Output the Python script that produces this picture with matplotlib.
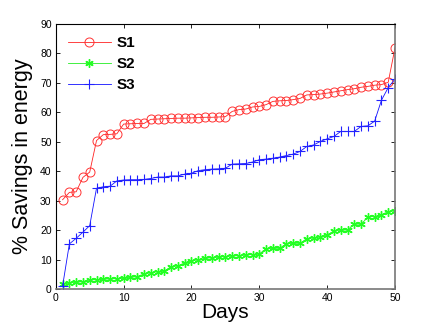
import numpy as np
import matplotlib
matplotlib.use('Agg')
import matplotlib.pyplot as plt

plt.rcParams['font.family'] = ['Liberation Sans', 'DejaVu Sans']

# valores
days = np.arange(1, 51)
s1 = [30.3, 32.8, 33.0, 37.9, 39.7, 50.4, 52.4, 52.5, 52.7, 56.0,
      56.1, 56.2, 56.2, 57.6, 57.7, 57.8, 57.9, 58.0, 58.0, 58.1,
      58.2, 58.3, 58.3, 58.4, 58.5, 60.3, 60.9, 61.1, 61.8, 62.0,
      62.6, 63.7, 63.9, 64.0, 64.3, 64.7, 65.9, 66.0, 66.2, 66.5,
      66.9, 67.3, 67.7, 68.0, 68.5, 68.8, 69.2, 69.4, 70.2, 81.9]
s2 = [1.7, 2.1, 2.2, 2.5, 3.1, 3.1, 3.3, 3.4, 3.5, 3.6,
      3.9, 4.2, 5.1, 5.5, 5.9, 6.1, 7.6, 7.8, 8.9, 9.6,
      9.9, 10.4, 10.6, 10.8, 11.0, 11.2, 11.3, 11.5, 11.7, 11.9,
      13.7, 13.8, 13.8, 15.4, 15.5, 15.5, 17.1, 17.3, 17.8, 18.4,
      19.7, 20.0, 20.0, 22.0, 22.0, 24.4, 24.6, 25.2, 26.3, 26.5]
s3 = [1.0, 15.3, 17.2, 19.3, 21.5, 34.2, 34.7, 34.9, 36.7, 37.0,
      37.1, 37.1, 37.2, 37.5, 38.0, 38.0, 38.4, 38.4, 39.0, 39.3,
      40.2, 40.5, 40.7, 40.8, 41.0, 42.4, 42.5, 42.6, 43.1, 43.9,
      44.1, 44.4, 44.8, 45.3, 45.8, 46.7, 48.4, 48.9, 50.1, 51.0,
      51.8, 53.5, 53.5, 53.5, 55.2, 55.4, 57.0, 64.1, 68.4, 71.3]

fig = plt.figure(figsize=(4.36, 3.28), dpi=100)
ax = fig.add_axes([0.128, 0.119, 0.778, 0.808])

ax.plot(days, s1, color='#ff2222', lw=0.6, marker='o', ms=6.5,
        mfc='none', mec='#ff3333', mew=0.7, label='S1')
ax.plot(days, s2, color='#22ee22', lw=0.6, marker=(6, 2, 0), ms=6,
        mec='#22ff22', mew=1.0, label='S2')
ax.plot(days, s3, color='#1111ff', lw=0.6, marker='+', ms=7,
        mec='#2222ff', mew=0.8, label='S3')

ax.set_xlim(0, 50)
ax.set_ylim(0, 90)
ax.set_xticks(np.arange(0, 51, 10))
ax.set_yticks(np.arange(0, 91, 10))
ax.tick_params(direction='in', top=True, right=True, labelsize=7.5,
               length=3, width=0.6, pad=3)
for s in ['top', 'left']:
    ax.spines[s].set_linewidth(0.8)
for s in ['bottom', 'right']:
    ax.spines[s].set_linewidth(1.2)
    ax.spines[s].set_color('#777777')

ax.set_xlabel('Days', fontsize=15, labelpad=0)
ax.set_ylabel('% Savings in energy', fontsize=15.5, labelpad=5)

leg = ax.legend(loc='upper left', frameon=False, prop={'weight': 'bold', 'size': 11},
                handlelength=2.8, handletextpad=0.4, labelspacing=0.45,
                borderaxespad=0.4)

fig.savefig('out.png', dpi=100)
